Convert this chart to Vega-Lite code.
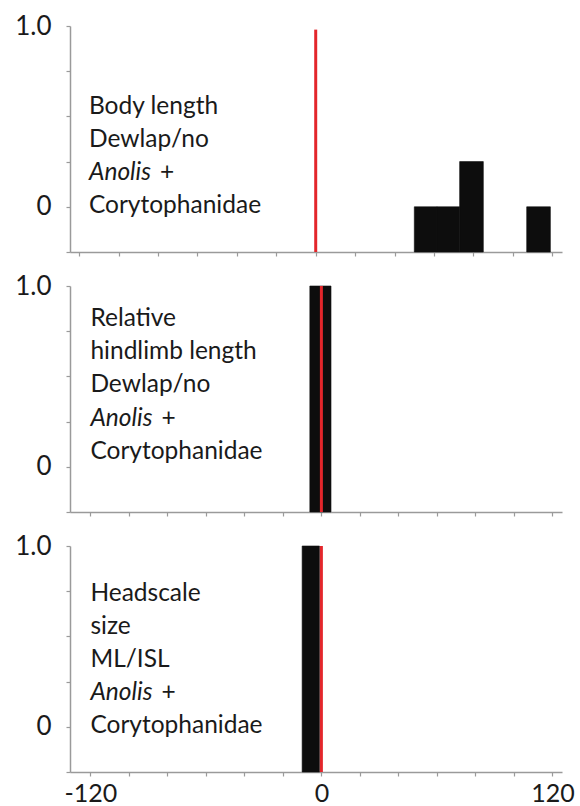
{
  "$schema": "https://vega.github.io/schema/vega-lite/v6.json",
  "autosize": {"type": "pad"},
  "padding": {"left": 14, "top": 13, "right": 5, "bottom": 0},
  "spacing": 34,
  "bounds": "flush",
  "config": {
    "view": {"stroke": null},
    "font": "Lato",
    "axis": {
      "domainColor": "#9a9a9a",
      "tickColor": "#9a9a9a",
      "tickSize": 4,
      "grid": false,
      "labelFont": "Lato",
      "labelFontSize": 26,
      "labelColor": "#1a1a1a",
      "title": null,
      "domainWidth": 1.5,
      "tickWidth": 1.2,
      "labelFlush": false,
      "labelOverlap": false
    }
  },
  "datasets": {
    "bars": [
      {"panel": 1, "start": 50, "end": 61.5, "freq": 0},
      {"panel": 1, "start": 61.5, "end": 73, "freq": 0},
      {"panel": 1, "start": 73, "end": 85, "freq": 0.25},
      {"panel": 1, "start": 107, "end": 119, "freq": 0},
      {"panel": 2, "start": -6, "end": 5, "freq": 1},
      {"panel": 3, "start": -10, "end": -1, "freq": 1}
    ],
    "obs": [
      {"panel": 1, "obs": 0},
      {"panel": 2, "obs": 0},
      {"panel": 3, "obs": 0}
    ],
    "labels": [
      {"panel": 1, "row": 3, "text": "Body length", "kind": "plain"},
      {"panel": 1, "row": 2, "text": "Dewlap/no", "kind": "plain"},
      {"panel": 1, "row": 1, "text": "Anolis", "kind": "genus"},
      {"panel": 1, "row": 1, "text": "+", "kind": "join"},
      {"panel": 1, "row": 0, "text": "Corytophanidae", "kind": "plain"},
      {"panel": 2, "row": 4, "text": "Relative", "kind": "plain"},
      {"panel": 2, "row": 3, "text": "hindlimb length", "kind": "plain"},
      {"panel": 2, "row": 2, "text": "Dewlap/no", "kind": "plain"},
      {"panel": 2, "row": 1, "text": "Anolis", "kind": "genus"},
      {"panel": 2, "row": 1, "text": "+", "kind": "join"},
      {"panel": 2, "row": 0, "text": "Corytophanidae", "kind": "plain"},
      {"panel": 3, "row": 4, "text": "Headscale", "kind": "plain"},
      {"panel": 3, "row": 3, "text": "size", "kind": "plain"},
      {"panel": 3, "row": 2, "text": "ML/ISL", "kind": "plain"},
      {"panel": 3, "row": 1, "text": "Anolis", "kind": "genus"},
      {"panel": 3, "row": 1, "text": "+", "kind": "join"},
      {"panel": 3, "row": 0, "text": "Corytophanidae", "kind": "plain"}
    ]
  },
  "vconcat": [
    {
      "width": 492, "height": 226,
      "resolve": {"scale": {"y": "independent"}},
      "layer": [
        {
          "data": {"name": "bars"},
          "transform": [{"filter": "datum.panel == 1"}],
          "mark": {"type": "rect", "color": "#0d0d0d", "stroke": "#0d0d0d", "strokeWidth": 0.6},
          "encoding": {
            "x": {"field": "start", "type": "quantitative", "scale": {"domain": [-124.6, 124.9], "nice": false, "zero": false},
                  "axis": {"values": [-120, -100, -80, -60, -40, -20, 0, 20, 40, 60, 80, 100, 120], "labels": false}},
            "x2": {"field": "end"},
            "y": {"field": "freq", "type": "quantitative", "scale": {"domain": [-0.25, 1], "nice": false, "zero": false},
                  "axis": {"values": [-0.25, 0, 0.25, 0.5, 0.75, 1], "labelExpr": "datum.value == 1 ? '1.0' : datum.value == 0 ? '0' : ''", "labelPadding": 15}},
            "y2": {"datum": -0.25}
          }
        },
        {
          "data": {"name": "obs"},
          "transform": [{"filter": "datum.panel == 1"}],
          "mark": {"type": "rule", "color": "#e3262b", "strokeWidth": 3},
          "encoding": {
            "x": {"field": "obs", "type": "quantitative", "scale": {"domain": [-124.6, 124.9], "nice": false, "zero": false}},
            "y": {"datum": 0.98, "type": "quantitative", "scale": {"domain": [-0.25, 1], "nice": false, "zero": false}, "axis": null},
            "y2": {"datum": -0.25}
          }
        },
        {
          "data": {"name": "labels"},
          "transform": [{"filter": "datum.panel == 1 && datum.kind == 'plain'"}],
          "mark": {"type": "text", "align": "left", "baseline": "alphabetic", "fontSize": 24.5, "font": "Lato", "color": "#1a1a1a"},
          "encoding": {
            "x": {"datum": -115, "type": "quantitative", "scale": {"domain": [-124.6, 124.9], "nice": false, "zero": false}},
            "y": {"field": "row", "type": "quantitative", "scale": {"domain": [-1.18, 5.667], "nice": false, "zero": false}, "axis": null},
            "text": {"field": "text"}
          }
        },
        {
          "data": {"name": "labels"},
          "transform": [{"filter": "datum.panel == 1 && datum.kind == 'genus'"}],
          "mark": {"type": "text", "align": "left", "baseline": "alphabetic", "fontSize": 24.5, "font": "Lato", "fontStyle": "italic", "color": "#1a1a1a"},
          "encoding": {
            "x": {"datum": -115, "type": "quantitative", "scale": {"domain": [-124.6, 124.9], "nice": false, "zero": false}},
            "y": {"field": "row", "type": "quantitative", "scale": {"domain": [-1.18, 5.667], "nice": false, "zero": false}, "axis": null},
            "text": {"field": "text"}
          }
        },
        {
          "data": {"name": "labels"},
          "transform": [{"filter": "datum.panel == 1 && datum.kind == 'join'"}],
          "mark": {"type": "text", "align": "left", "baseline": "alphabetic", "fontSize": 24.5, "font": "Lato", "color": "#1a1a1a", "dx": 71},
          "encoding": {
            "x": {"datum": -115, "type": "quantitative", "scale": {"domain": [-124.6, 124.9], "nice": false, "zero": false}},
            "y": {"field": "row", "type": "quantitative", "scale": {"domain": [-1.18, 5.667], "nice": false, "zero": false}, "axis": null},
            "text": {"field": "text"}
          }
        }
      ]
    },
    {
      "width": 492, "height": 226,
      "resolve": {"scale": {"y": "independent"}},
      "layer": [
        {
          "data": {"name": "bars"},
          "transform": [{"filter": "datum.panel == 2"}],
          "mark": {"type": "rect", "color": "#0d0d0d", "stroke": "#0d0d0d", "strokeWidth": 0.6},
          "encoding": {
            "x": {"field": "start", "type": "quantitative", "scale": {"domain": [-130.6, 125], "nice": false, "zero": false},
                  "axis": {"values": [-120, -100, -80, -60, -40, -20, 0, 20, 40, 60, 80, 100, 120], "labels": false}},
            "x2": {"field": "end"},
            "y": {"field": "freq", "type": "quantitative", "scale": {"domain": [-0.25, 1], "nice": false, "zero": false},
                  "axis": {"values": [-0.25, 0, 0.25, 0.5, 0.75, 1], "labelExpr": "datum.value == 1 ? '1.0' : datum.value == 0 ? '0' : ''", "labelPadding": 15}},
            "y2": {"datum": -0.25}
          }
        },
        {
          "data": {"name": "obs"},
          "transform": [{"filter": "datum.panel == 2"}],
          "mark": {"type": "rule", "color": "#e3262b", "strokeWidth": 3},
          "encoding": {
            "x": {"field": "obs", "type": "quantitative", "scale": {"domain": [-130.6, 125], "nice": false, "zero": false}},
            "y": {"datum": 1, "type": "quantitative", "scale": {"domain": [-0.25, 1], "nice": false, "zero": false}, "axis": null},
            "y2": {"datum": -0.25}
          }
        },
        {
          "data": {"name": "labels"},
          "transform": [{"filter": "datum.panel == 2 && datum.kind == 'plain'"}],
          "mark": {"type": "text", "align": "left", "baseline": "alphabetic", "fontSize": 24.5, "font": "Lato", "color": "#1a1a1a"},
          "encoding": {
            "x": {"datum": -120, "type": "quantitative", "scale": {"domain": [-130.6, 125], "nice": false, "zero": false}},
            "y": {"field": "row", "type": "quantitative", "scale": {"domain": [-1.621, 5.227], "nice": false, "zero": false}, "axis": null},
            "text": {"field": "text"}
          }
        },
        {
          "data": {"name": "labels"},
          "transform": [{"filter": "datum.panel == 2 && datum.kind == 'genus'"}],
          "mark": {"type": "text", "align": "left", "baseline": "alphabetic", "fontSize": 24.5, "font": "Lato", "fontStyle": "italic", "color": "#1a1a1a"},
          "encoding": {
            "x": {"datum": -120, "type": "quantitative", "scale": {"domain": [-130.6, 125], "nice": false, "zero": false}},
            "y": {"field": "row", "type": "quantitative", "scale": {"domain": [-1.621, 5.227], "nice": false, "zero": false}, "axis": null},
            "text": {"field": "text"}
          }
        },
        {
          "data": {"name": "labels"},
          "transform": [{"filter": "datum.panel == 2 && datum.kind == 'join'"}],
          "mark": {"type": "text", "align": "left", "baseline": "alphabetic", "fontSize": 24.5, "font": "Lato", "color": "#1a1a1a", "dx": 71},
          "encoding": {
            "x": {"datum": -120, "type": "quantitative", "scale": {"domain": [-130.6, 125], "nice": false, "zero": false}},
            "y": {"field": "row", "type": "quantitative", "scale": {"domain": [-1.621, 5.227], "nice": false, "zero": false}, "axis": null},
            "text": {"field": "text"}
          }
        }
      ]
    },
    {
      "width": 492, "height": 226,
      "resolve": {"scale": {"y": "independent"}},
      "layer": [
        {
          "data": {"name": "bars"},
          "transform": [{"filter": "datum.panel == 3"}],
          "mark": {"type": "rect", "color": "#0d0d0d", "stroke": "#0d0d0d", "strokeWidth": 0.6},
          "encoding": {
            "x": {"field": "start", "type": "quantitative", "scale": {"domain": [-130.6, 125], "nice": false, "zero": false},
                  "axis": {"values": [-120, -100, -80, -60, -40, -20, 0, 20, 40, 60, 80, 100, 120], "labelPadding": 5, "labelFontSize": 25,
                           "labelExpr": "datum.value == -120 ? '-120' : datum.value == 0 ? '0' : datum.value == 120 ? '120' : ''"}},
            "x2": {"field": "end"},
            "y": {"field": "freq", "type": "quantitative", "scale": {"domain": [-0.25, 1], "nice": false, "zero": false},
                  "axis": {"values": [-0.25, 0, 0.25, 0.5, 0.75, 1], "labelExpr": "datum.value == 1 ? '1.0' : datum.value == 0 ? '0' : ''", "labelPadding": 15}},
            "y2": {"datum": -0.25}
          }
        },
        {
          "data": {"name": "obs"},
          "transform": [{"filter": "datum.panel == 3"}],
          "mark": {"type": "rule", "color": "#e3262b", "strokeWidth": 3},
          "encoding": {
            "x": {"field": "obs", "type": "quantitative", "scale": {"domain": [-130.6, 125], "nice": false, "zero": false}},
            "y": {"datum": 1, "type": "quantitative", "scale": {"domain": [-0.25, 1], "nice": false, "zero": false}, "axis": null},
            "y2": {"datum": -0.25}
          }
        },
        {
          "data": {"name": "labels"},
          "transform": [{"filter": "datum.panel == 3 && datum.kind == 'plain'"}],
          "mark": {"type": "text", "align": "left", "baseline": "alphabetic", "fontSize": 24.5, "font": "Lato", "color": "#1a1a1a"},
          "encoding": {
            "x": {"datum": -120, "type": "quantitative", "scale": {"domain": [-130.6, 125], "nice": false, "zero": false}},
            "y": {"field": "row", "type": "quantitative", "scale": {"domain": [-1.18, 5.667], "nice": false, "zero": false}, "axis": null},
            "text": {"field": "text"}
          }
        },
        {
          "data": {"name": "labels"},
          "transform": [{"filter": "datum.panel == 3 && datum.kind == 'genus'"}],
          "mark": {"type": "text", "align": "left", "baseline": "alphabetic", "fontSize": 24.5, "font": "Lato", "fontStyle": "italic", "color": "#1a1a1a"},
          "encoding": {
            "x": {"datum": -120, "type": "quantitative", "scale": {"domain": [-130.6, 125], "nice": false, "zero": false}},
            "y": {"field": "row", "type": "quantitative", "scale": {"domain": [-1.18, 5.667], "nice": false, "zero": false}, "axis": null},
            "text": {"field": "text"}
          }
        },
        {
          "data": {"name": "labels"},
          "transform": [{"filter": "datum.panel == 3 && datum.kind == 'join'"}],
          "mark": {"type": "text", "align": "left", "baseline": "alphabetic", "fontSize": 24.5, "font": "Lato", "color": "#1a1a1a", "dx": 71},
          "encoding": {
            "x": {"datum": -120, "type": "quantitative", "scale": {"domain": [-130.6, 125], "nice": false, "zero": false}},
            "y": {"field": "row", "type": "quantitative", "scale": {"domain": [-1.18, 5.667], "nice": false, "zero": false}, "axis": null},
            "text": {"field": "text"}
          }
        }
      ]
    }
  ]
}
